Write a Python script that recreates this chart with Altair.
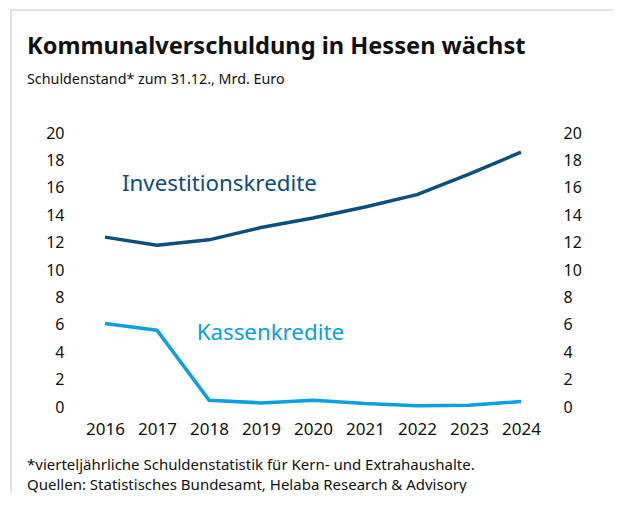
import altair as alt
import pandas as pd

years = [2016, 2017, 2018, 2019, 2020, 2021, 2022, 2023, 2024]
investitionskredite = [12.4, 11.8, 12.2, 13.1, 13.8, 14.6, 15.5, 17.0, 18.6]
kassenkredite = [6.1, 5.6, 0.5, 0.3, 0.5, 0.25, 0.1, 0.12, 0.4]
y_ticks = [0, 2, 4, 6, 8, 10, 12, 14, 16, 18, 20]

title_text = "Kommunalverschuldung in Hessen wächst"
subtitle_text = "Schuldenstand* zum 31.12., Mrd. Euro"
foot1 = "*vierteljährliche Schuldenstatistik für Kern- und Extrahaushalte."
foot2 = "Quellen: Statistisches Bundesamt, Helaba Research & Advisory"

DARK = "#0b4f7a"
LIGHT = "#0a9fe0"
FONT = "Noto Sans"

df = pd.DataFrame({
    "Jahr": years * 2,
    "Wert": investitionskredite + kassenkredite,
    "Serie": ["Investitionskredite"] * len(years) + ["Kassenkredite"] * len(years),
})

x_scale = alt.Scale(domain=[2016, 2024], nice=False, zero=False)
y_scale = alt.Scale(domain=[0, 20], nice=False)
x_axis = alt.Axis(values=years, format="d", title=None, grid=False, domain=False,
                  ticks=False, labelFontSize=17, labelPadding=14, labelColor="#111111",
                  labelFont=FONT, labelOverlap=False, labelFlush=False)

base = alt.Chart(df)

lines = base.mark_line(strokeWidth=3.5, strokeCap="butt", strokeJoin="round").encode(
    x=alt.X("Jahr:Q", scale=x_scale, axis=x_axis),
    y=alt.Y("Wert:Q", scale=y_scale,
            axis=alt.Axis(orient="left", values=y_ticks, title=None, grid=False, domain=False,
                          ticks=False, labelFontSize=16, labelPadding=41, labelColor="#111111",
                          labelFont=FONT, labelOverlap=False, labelFlush=False)),
    color=alt.Color("Serie:N", scale=alt.Scale(domain=["Investitionskredite", "Kassenkredite"],
                                                range=[DARK, LIGHT]), legend=None),
)

right_axis = base.mark_line(opacity=0).encode(
    x=alt.X("Jahr:Q", scale=x_scale, axis=x_axis),
    y=alt.Y("Wert:Q", scale=y_scale,
            axis=alt.Axis(orient="right", values=y_ticks, title=None, grid=False, domain=False,
                          ticks=False, labelFontSize=16, labelPadding=42, labelColor="#111111",
                          labelFont=FONT, labelAlign="left", labelOverlap=False, labelFlush=False)),
)

lab_inv = alt.Chart(pd.DataFrame({"t": ["Investitionskredite"]})).mark_text(
    font=FONT, fontSize=22.3, color=DARK, align="center", baseline="middle"
).encode(text="t:N",
         x=alt.X(datum=2018.2, type="quantitative", scale=x_scale, axis=x_axis),
         y=alt.Y(datum=16.3, type="quantitative", scale=y_scale, axis=None))

lab_kas = alt.Chart(pd.DataFrame({"t": ["Kassenkredite"]})).mark_text(
    font=FONT, fontSize=22.3, color=LIGHT, align="center", baseline="middle"
).encode(text="t:N",
         x=alt.X(datum=2019.18, type="quantitative", scale=x_scale, axis=x_axis),
         y=alt.Y(datum=5.4, type="quantitative", scale=y_scale, axis=None))

def txt(s, x, y, size, weight="normal", color="#111111"):
    return alt.Chart(pd.DataFrame({"t": [s]})).mark_text(
        font=FONT, fontSize=size, fontWeight=weight, color=color, align="left", baseline="middle"
    ).encode(text="t:N", x=alt.value(x), y=alt.value(y))

title = txt(title_text, -78, 47 - 133, 23.6, "bold")
subtitle = txt(subtitle_text, -78, 80 - 133, 14.3)
f1 = txt(foot1, -78, 465 - 133, 15)
f2 = txt(foot2, -78, 485 - 133, 15)

frame_v = alt.Chart(pd.DataFrame({"a": [0]})).mark_rule(color="#e2e2e2", strokeWidth=2).encode(
    x=alt.value(-94), y=alt.value(-124), y2=alt.value(400))
frame_h = alt.Chart(pd.DataFrame({"a": [0]})).mark_rule(color="#e2e2e2", strokeWidth=2).encode(
    x=alt.value(-95), x2=alt.value(560), y=alt.value(-123))

chart = alt.layer(frame_v, frame_h, lines, right_axis, lab_inv, lab_kas, title, subtitle, f1, f2).resolve_axis(
    y="independent"
).properties(
    width=416, height=274,
    autosize=alt.AutoSizeParams(type="none"),
    padding={"left": 97, "top": 125, "right": 92, "bottom": 86},
).configure_view(stroke=None).configure_text(font=FONT)

chart.save("out.html", embed_options={"renderer": "svg", "actions": False})
